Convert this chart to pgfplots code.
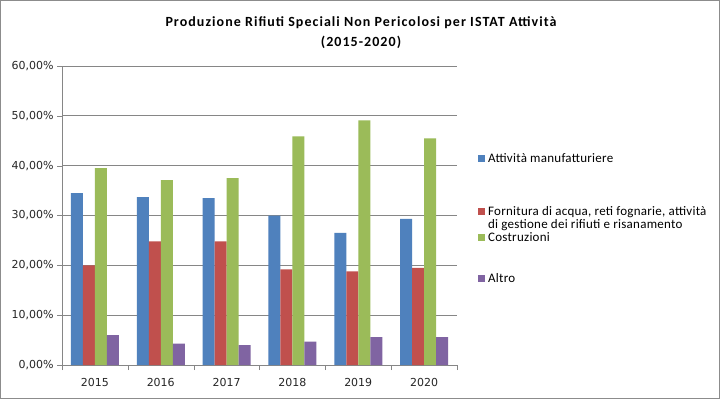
\documentclass[border=0pt]{standalone}
\usepackage{fontspec}
\setmainfont{Carlito}
\newfontfamily\dejavu{DejaVu Sans}
\newfontfamily\titlefont[LetterSpace=7.5]{Carlito}
\newfontfamily\legfont[LetterSpace=2]{Carlito}
\usepackage{pgfplots}
\pgfplotsset{compat=1.18}
\definecolor{sBlue}{HTML}{4F81BD}
\definecolor{sRed}{HTML}{C0504D}
\definecolor{sGreen}{HTML}{9BBB59}
\definecolor{sPurple}{HTML}{8064A2}
\definecolor{gridc}{HTML}{868686}
\definecolor{framec}{HTML}{8C8C8C}
\begin{document}
\begin{tikzpicture}[x=1pt,y=1pt]
\useasboundingbox (0,0) rectangle (720,399);
\fill[white] (0,0) rectangle (720,399);
\draw[framec, line width=1pt] (0.5,0.5) rectangle (719.5,398.5);
\node[font=\titlefont\bfseries\fontsize{14}{20}\selectfont, anchor=base] at (361,372)
  {Produzione Rifiuti Speciali Non Pericolosi per ISTAT Attività};
\node[font=\titlefont\bfseries\fontsize{14}{20}\selectfont, anchor=base] at (361,352)
  {(2015-2020)};
\begin{axis}[
  at={(62pt,34pt)}, anchor=south west,
  scale only axis, width=395pt, height=299pt,
  ybar=0pt, bar width=12pt,
  xmin=-0.5, xmax=5.5, ymin=0, ymax=60,
  xtick={0,1,2,3,4,5},
  xticklabels={2015,2016,2017,2018,2019,2020},
  minor xtick={-0.5,0.5,1.5,2.5,3.5,4.5,5.5},
  major x tick style={draw=none},
  minor tick length=5pt, major tick length=5pt,
  tick align=outside,
  ytick={0,10,20,30,40,50,60},
  yticklabel={\pgfmathprintnumber[fixed,fixed zerofill,precision=2,use comma]{\tick}\%},
  /pgf/number format/assume math mode=true,
  ticklabel style={font=\dejavu\fontsize{11}{13}\selectfont, text=black!85},
  xticklabel style={yshift=-5pt},
  axis x line*=bottom, axis y line*=left,
  axis line style={gridc, -},
  tick style={gridc},
  ymajorgrids, grid style={gridc, line width=0.8pt},
  every axis plot/.append style={draw=none},
  legend image code/.code={\fill[#1] (0pt,0.5pt) rectangle (7pt,7.5pt);},
  legend cell align=left,
  legend style={at={(1.053,0.711)}, anchor=north west, draw=none, fill=none,
    row sep=0pt, inner sep=0pt, font=\legfont\fontsize{13}{12}\selectfont,
    nodes={inner sep=0pt, anchor=base west, text depth=},
    /tikz/every odd column/.append style={column sep=3pt}},
]
\addplot[fill=sBlue] coordinates {(0,34.5) (1,33.7) (2,33.5) (3,30.0) (4,26.5) (5,29.3)};
\addplot[fill=sRed] coordinates {(0,20.0) (1,24.8) (2,24.8) (3,19.2) (4,18.8) (5,19.5)};
\addplot[fill=sGreen] coordinates {(0,39.5) (1,37.1) (2,37.5) (3,45.9) (4,49.1) (5,45.5)};
\addplot[fill=sPurple] coordinates {(0,6.0) (1,4.3) (2,4.0) (3,4.7) (4,5.6) (5,5.6)};
\legend{{\rule[-3pt]{0pt}{13pt}Attività manufatturiere},
  {\rule{0pt}{50pt}\begin{tabular}[t]{@{}l@{}}Fornitura di acqua, reti fognarie, attività\\di gestione dei rifiuti e risanamento\end{tabular}},
  {\rule[-3pt]{0pt}{12.5pt}Costruzioni},
  {\rule[-3pt]{0pt}{41pt}Altro}}
\end{axis}
\end{tikzpicture}
\end{document}
